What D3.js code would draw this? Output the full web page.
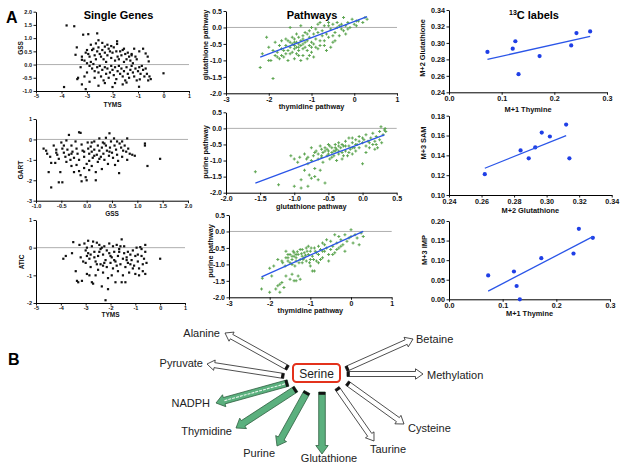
<!DOCTYPE html>
<html><head><meta charset="utf-8">
<script src="https://cdn.jsdelivr.net/npm/d3@7"></script>
<style>body{margin:0;background:#fff}svg{display:block}text{font-family:"Liberation Sans",Arial,sans-serif}</style>
</head><body><svg id="c" width="625" height="469"></svg>
<script>
// ---------------- DATA ----------------
// Single genes: GSS vs TYMS
const gssVsTyms = [[-3.8,1.48],[-3.5,1.45],[-3.15,1.13],[-2.95,1.15],[-2.6,1.18],[-2.55,0.92],[-2.4,0.82],[-2.2,0.75],[-1.82,0.88],[-1.82,0.78],[-3.4,0.65],[-3.45,0.37],[-3.2,0.18],[-3.1,0.15],[-3.05,0.45],[-3.0,0.55],[-2.95,0.4],[-2.9,0.3],[-2.85,0.1],[-2.8,0.55],[-2.75,0.6],[-2.7,0.35],[-2.65,0.2],[-2.6,0.5],[-2.55,0.65],[-2.5,0.4],[-2.45,0.3],[-2.4,0.55],[-2.35,0.2],[-2.3,0.45],[-2.25,0.1],[-2.2,0.35],[-2.15,0.6],[-2.1,0.5],[-2.05,0.25],[-2.0,0.45],[-1.95,0.65],[-1.9,0.15],[-1.85,0.5],[-1.8,0.3],[-1.75,0.2],[-1.7,0.5],[-1.65,0.35],[-1.6,0.55],[-1.55,0.1],[-1.5,0.4],[-1.45,0.2],[-1.4,0.45],[-1.35,0.3],[-1.3,0.15],[-1.25,0.4],[-1.2,0.05],[-1.1,0.3],[-1.05,0.2],[-0.95,0.5],[-0.8,0.6],[-0.7,0.42],[-0.62,0.3],[-0.58,0.12],[-3.0,0.05],[-2.9,-0.05],[-2.8,-0.15],[-2.75,0.02],[-2.7,-0.25],[-2.6,-0.1],[-2.55,-0.3],[-2.5,-0.05],[-2.45,-0.45],[-2.4,-0.2],[-2.35,-0.6],[-2.3,-0.1],[-2.25,-0.35],[-2.2,-0.15],[-2.15,-0.5],[-2.1,-0.3],[-2.05,-0.05],[-2.0,-0.2],[-1.95,-0.4],[-1.9,-0.1],[-1.85,-0.55],[-1.8,-0.25],[-1.75,-0.05],[-1.7,-0.35],[-1.65,-0.15],[-1.6,-0.45],[-1.55,-0.25],[-1.5,-0.6],[-1.45,-0.1],[-1.4,-0.35],[-1.35,-0.5],[-1.3,-0.2],[-1.25,-0.05],[-1.2,-0.3],[-1.15,-0.45],[-1.1,-0.15],[-1.05,-0.6],[-1.0,-0.25],[-0.95,-0.1],[-0.9,-0.35],[-0.85,-0.05],[-0.8,-0.2],[-0.75,-0.45],[-0.7,-0.15],[-0.65,-0.35],[-0.6,-0.6],[-0.55,-0.45],[-0.5,-0.55],[-0.93,-0.56],[-0.96,-0.84],[0.0,-0.33],[-3.9,-0.85],[-3.35,-0.5],[-3.38,-0.55],[-3.2,-0.75],[-3.05,-0.93],[-3.1,-0.45],[-2.9,-0.65],[-2.7,-0.5],[-2.55,-0.8],[-2.3,-0.7],[-2.0,-0.85],[-1.9,-0.7],[-1.6,-0.75],[-1.45,-0.68],[-3.2,0.3],[-3.25,-0.1],[-3.0,-0.3],[-2.85,0.75],[-2.65,0.8],[-2.3,0.68],[-2.05,0.7],[-1.55,0.6],[-1.25,0.35],[-1.15,0.6]];
// GART vs GSS
const gartVsGss = [[-0.85,-0.45],[-0.8,-0.55],[-0.78,-0.7],[-0.72,-0.85],[-0.7,-1.15],[-0.75,-1.6],[-0.7,-2.35],[-0.55,-2.1],[-0.48,-2.1],[-0.62,-1.15],[-0.65,-0.3],[-0.6,-0.5],[-0.58,-0.75],[-0.55,-0.95],[-0.52,-1.6],[-0.5,-0.15],[-0.48,-0.45],[-0.45,-0.65],[-0.42,-0.85],[-0.4,-0.05],[-0.38,-0.5],[-0.35,0.22],[-0.35,-0.75],[-0.32,-1.0],[-0.3,-0.3],[-0.28,-0.6],[-0.25,-0.9],[-0.22,-0.1],[-0.2,-0.45],[-0.2,-1.25],[-0.18,-0.7],[-0.15,0.35],[-0.12,0.32],[-0.15,-1.55],[-0.12,-1.75],[-0.1,-2.05],[-0.1,-0.25],[-0.08,-0.55],[-0.05,-0.85],[-0.05,-1.4],[-0.02,-1.85],[0.0,-2.0],[0.02,-0.15],[0.03,-0.45],[0.05,-0.7],[0.05,-1.05],[0.08,-0.35],[0.1,-0.6],[0.1,-1.3],[0.12,-0.9],[0.15,-0.1],[0.15,-0.5],[0.18,-1.6],[0.18,-2.0],[0.2,-0.75],[0.22,-0.3],[0.22,-1.1],[0.25,0.05],[0.25,-0.55],[0.28,-0.85],[0.3,-0.4],[0.3,-1.45],[0.32,-0.15],[0.33,-0.7],[0.35,-1.0],[0.38,-0.3],[0.38,0.08],[0.4,-0.55],[0.42,-1.2],[0.44,-0.8],[0.45,0.3],[0.46,-0.4],[0.48,-0.1],[0.5,-0.65],[0.52,-0.9],[0.54,0.05],[0.55,-0.3],[0.56,-1.25],[0.58,-0.5],[0.6,-0.75],[0.62,-1.05],[0.64,-1.65],[0.65,-0.2],[0.68,-0.4],[0.7,-0.85],[0.72,-0.55],[0.75,-0.3],[0.78,-0.6],[0.8,0.05],[0.8,-1.0],[0.82,-0.45],[0.85,-0.7],[0.9,-0.75],[0.95,-0.8],[1.15,-0.2],[1.15,-0.3],[1.2,-1.3],[1.45,-0.95],[-0.3,-1.3],[-0.25,-1.6],[-0.15,-1.0],[0.0,-1.2],[0.05,-1.5],[0.1,-0.15],[-0.4,-1.1],[-0.45,-0.3],[0.35,-0.2],[0.6,-0.1],[0.15,-0.8],[-0.05,-0.6],[0.25,-0.95],[0.45,-0.6],[-0.6,-0.65],[-0.3,-0.7],[0.7,-0.1]];
// ATIC vs TYMS
const aticVsTyms = [[-3.9,-0.4],[-3.8,-0.3],[-3.55,-0.2],[-3.5,0.2],[-3.4,-0.85],[-3.35,-1.2],[-3.3,-1.25],[-3.2,-0.35],[-3.15,-1.2],[-3.05,0.15],[-3.0,-0.1],[-3.0,-0.55],[-2.95,-0.95],[-2.9,0.25],[-2.9,-0.2],[-2.85,-0.4],[-2.8,-0.7],[-2.75,-1.25],[-2.7,-1.3],[-2.75,0.05],[-2.7,0.22],[-2.65,-0.15],[-2.6,-0.5],[-2.6,-1.0],[-2.55,0.18],[-2.5,-0.3],[-2.5,-0.8],[-2.45,0.1],[-2.4,-0.05],[-2.4,-0.6],[-2.35,-1.4],[-2.3,-0.25],[-2.3,-0.9],[-2.25,0.05],[-2.2,-0.45],[-2.2,-1.9],[-2.15,-0.7],[-2.1,-1.1],[-2.1,-1.5],[-2.05,0.15],[-2.05,-0.2],[-2.0,-0.55],[-1.95,-0.35],[-1.95,-1.0],[-1.9,0.05],[-1.9,-0.75],[-1.85,-0.15],[-1.8,-0.5],[-1.8,-1.25],[-1.75,0.1],[-1.7,-0.3],[-1.7,-0.85],[-1.65,-0.05],[-1.6,-0.6],[-1.55,0.3],[-1.55,-1.25],[-1.5,-0.4],[-1.5,-1.0],[-1.45,0.05],[-1.45,-0.2],[-1.4,-0.7],[-1.4,-1.25],[-1.35,-0.35],[-1.3,-0.15],[-1.3,-0.55],[-1.25,-0.9],[-1.2,-0.25],[-1.15,-0.45],[-1.1,-0.1],[-1.05,-0.65],[-1.0,-0.3],[-1.0,-0.95],[-0.95,0.0],[-0.9,-0.5],[-0.85,-0.75],[-0.85,-1.0],[-0.8,0.02],[-0.75,-0.3],[-0.7,-0.6],[-0.7,-0.85],[-0.65,-0.4],[-0.6,0.1],[-0.6,-0.15],[-0.6,-0.95],[-0.55,-0.55],[0.0,-0.4],[-3.1,-0.5],[-3.25,0.1],[-2.85,-1.0],[-2.65,-0.35],[-2.55,-0.6],[-2.35,0.0],[-2.25,-0.55],[-2.15,-0.1],[-2.0,-0.3],[-1.85,-0.45],[-1.65,-0.15],[-1.6,0.05],[-1.35,-0.45],[-1.2,-0.6],[-1.1,-0.75],[-0.9,-0.25],[-2.95,0.0],[-2.8,-0.25],[-2.45,-0.15],[-2.3,-0.65],[-2.95,-0.3],[-1.75,-0.65],[-0.75,-0.05]];
// Pathways: glutathione vs thymidine
const glutVsThym = [[-2.2,-1.22],[-2.15,-0.8],[-2.05,-0.3],[-2.0,-1.0],[-1.95,-1.0],[-1.9,-1.55],[-1.85,-0.85],[-1.8,-0.75],[-1.75,-0.95],[-1.7,-0.65],[-1.65,-0.9],[-1.6,-0.55],[-1.55,-0.7],[-1.55,-1.0],[-1.5,-0.45],[-1.5,-0.6],[-1.5,0.0],[-1.45,-0.5],[-1.45,-0.75],[-1.4,-0.35],[-1.4,-0.55],[-1.4,-0.65],[-1.35,-0.45],[-1.35,-0.6],[-1.35,-0.8],[-1.3,-0.3],[-1.3,-0.5],[-1.3,-0.7],[-1.25,-0.4],[-1.25,-0.55],[-1.25,0.05],[-1.2,-0.25],[-1.2,-0.5],[-1.2,-0.65],[-1.2,-0.85],[-1.15,-0.45],[-1.15,-0.6],[-1.1,-0.2],[-1.1,-0.4],[-1.1,-0.7],[-1.05,-0.3],[-1.05,-0.55],[-1.0,0.0],[-1.0,-0.45],[-1.0,-0.75],[-0.95,-0.2],[-0.95,-0.9],[-0.9,-0.35],[-0.9,-0.6],[-0.85,0.1],[-0.85,-0.15],[-0.8,-0.4],[-0.8,-0.55],[-0.75,-0.1],[-0.75,-0.25],[-0.7,0.05],[-0.7,-0.4],[-0.65,-0.2],[-0.65,-0.7],[-0.6,0.15],[-0.6,-0.3],[-0.55,-0.05],[-0.5,-0.45],[-0.5,0.1],[-0.45,-0.15],[-0.4,0.0],[-0.4,0.15],[-0.35,-0.25],[-0.3,0.1],[-0.3,-0.05],[-0.25,0.3],[-0.2,0.05],[-0.2,-0.2],[-0.15,0.15],[-0.1,0.0],[-0.05,0.25],[0.0,0.1],[0.05,0.05],[0.1,0.2],[0.2,0.15],[0.25,0.3],[0.3,0.25],[-1.65,-0.7],[-1.6,-0.8],[-1.75,-0.55],[-1.85,-0.45],[-1.7,-0.4],[-1.45,-0.3],[-1.3,-0.85],[-1.15,-0.15],[-1.05,-0.85],[-0.95,-0.5],[-0.85,-0.65],[-1.35,-0.2],[-1.6,-0.35],[-2.0,-0.6],[-1.9,-0.7],[-1.25,-1.0],[-1.1,-0.95],[-0.55,-0.6],[-0.45,-0.4],[-0.8,0.15],[-0.6,0.05],[-1.4,-0.95],[-1.55,-0.4],[-1.05,-0.1],[-0.7,-0.55],[-0.35,0.05],[-0.9,-0.05],[-1.0,-0.6],[-1.2,-0.35],[-1.3,-0.6],[-1.4,-0.45],[-1.5,-0.8],[-1.7,-0.85],[-1.8,-0.9],[-0.15,-0.05],[0.05,0.2],[-0.25,-0.1],[-0.5,-0.25]];
const glutVsThymFit = [[-2.2,-0.9],[0.3,0.33]];
// Pathways: purine vs glutathione
const purVsGlut = [[-1.57,-1.35],[-1.23,-1.75],[-1.0,-1.8],[-0.9,-1.85],[-0.8,-1.8],[-1.05,-0.85],[-1.0,-0.95],[-0.95,-1.05],[-0.9,-1.6],[-0.85,-1.3],[-0.82,-0.95],[-0.8,-0.9],[-0.78,-1.45],[-0.75,-0.6],[-0.75,-1.55],[-0.72,-0.85],[-0.7,-1.25],[-0.7,-1.5],[-0.68,-0.7],[-0.65,-0.8],[-0.65,-1.6],[-0.62,-1.3],[-0.6,-0.65],[-0.6,-0.9],[-0.58,-0.75],[-0.55,-0.6],[-0.55,-1.7],[-0.52,-0.85],[-0.5,-0.7],[-0.5,-0.5],[-0.48,-0.95],[-0.45,-0.75],[-0.45,-0.6],[-0.42,-0.85],[-0.4,-0.5],[-0.4,-0.7],[-0.38,-0.65],[-0.35,-0.8],[-0.35,-0.45],[-0.32,-0.6],[-0.3,-0.75],[-0.3,-0.95],[-0.28,-0.55],[-0.25,-0.4],[-0.25,-0.7],[-0.22,-0.85],[-0.2,-0.55],[-0.2,-0.3],[-0.18,-0.65],[-0.15,-0.45],[-0.15,-0.8],[-0.12,-0.6],[-0.1,-0.35],[-0.1,-0.7],[-0.08,-0.5],[-0.05,-0.25],[-0.05,-0.6],[0.0,-0.45],[0.0,-1.1],[0.02,-0.35],[0.05,-0.55],[0.05,-0.2],[0.08,-0.4],[0.1,-0.6],[0.12,-0.3],[0.15,-0.5],[0.15,-0.15],[0.18,-0.4],[0.2,-0.25],[0.22,-0.6],[0.25,-0.35],[0.25,-0.1],[0.27,0.05],[0.28,-0.45],[0.3,-0.2],[0.32,-0.05],[0.33,0.0],[0.34,-0.1],[-0.6,-0.85],[-0.55,-0.7],[-0.5,-0.8],[-0.45,-0.9],[-0.4,-0.6],[-0.35,-0.7],[-0.7,-0.75],[-0.65,-0.95],[-0.3,-0.5],[-0.2,-0.75],[-0.15,-0.6],[-0.1,-0.5],[0.1,-0.45],[0.2,-0.5],[-0.85,-0.8],[-0.92,-0.9],[-0.75,-1.0],[-0.48,-0.55],[-0.05,-0.4],[-0.25,-0.55],[-0.58,-1.05],[0.05,-0.75],[-0.38,-1.0],[-0.8,-1.1],[-0.62,-0.55],[0.18,-0.65],[-0.35,-0.55],[-0.42,-0.7],[-0.52,-0.65],[-0.15,-0.3],[0.0,-0.3],[-0.28,-0.85]];
const purVsGlutFit = [[-1.57,-1.7],[0.32,-0.2]];
// Pathways: purine vs thymidine
const purVsThym = [[-2.2,-1.75],[-2.18,-1.42],[-2.0,-1.12],[-2.0,-1.85],[-1.95,-1.35],[-1.85,-1.75],[-1.8,-1.65],[-1.75,-1.6],[-1.75,-1.85],[-1.7,-1.55],[-1.68,-0.95],[-1.65,-1.7],[-1.6,-0.6],[-1.6,-1.35],[-1.55,-0.8],[-1.55,-0.9],[-1.5,-0.7],[-1.5,-1.45],[-1.45,-0.85],[-1.45,-1.0],[-1.45,-1.3],[-1.4,-0.65],[-1.4,-0.75],[-1.4,-1.5],[-1.35,-0.8],[-1.35,-0.9],[-1.3,-0.7],[-1.3,-1.35],[-1.25,-0.55],[-1.25,-0.85],[-1.2,-0.75],[-1.2,-0.95],[-1.15,-0.65],[-1.15,-0.8],[-1.1,-0.5],[-1.1,-0.9],[-1.05,-0.7],[-1.0,-0.6],[-1.0,-0.85],[-0.95,-0.75],[-0.95,-1.2],[-0.9,-0.5],[-0.9,-1.2],[-0.85,-0.65],[-0.85,-0.9],[-0.8,-0.45],[-0.8,-0.7],[-0.75,-0.55],[-0.7,-0.35],[-0.7,-0.8],[-0.65,-0.6],[-0.6,-0.5],[-0.55,-0.7],[-0.5,-0.3],[-0.5,-0.55],[-0.45,-0.45],[-0.4,-0.1],[-0.4,-0.65],[-0.35,-0.35],[-0.3,-0.15],[-0.3,-0.5],[-0.25,-0.25],[-0.2,-0.4],[-0.15,-0.1],[-0.15,-0.6],[-0.1,-0.3],[-0.05,-0.2],[0.0,0.05],[0.0,-0.15],[0.05,-0.35],[0.1,-0.1],[0.15,-0.2],[0.2,-0.4],[0.25,-0.05],[0.3,-0.15],[-1.55,-0.7],[-1.5,-0.95],[-1.42,-0.6],[-1.38,-1.05],[-1.32,-0.62],[-1.28,-0.95],[-1.22,-0.68],[-1.18,-0.85],[-1.12,-0.72],[-1.08,-0.6],[-1.02,-0.95],[-0.98,-0.5],[-0.92,-0.85],[-0.88,-0.6],[-1.35,-0.7],[-1.45,-0.75],[-1.62,-1.05],[-1.7,-0.9],[-1.8,-0.85],[-1.9,-1.05],[-1.25,-1.45],[-1.35,-1.5],[-0.6,-0.25],[-0.45,-0.7],[-0.35,-0.55],[-0.25,-0.45],[-0.75,-0.85],[-0.65,-0.4],[-1.05,-0.45],[-1.6,-0.8],[-1.2,-0.55],[-0.55,-0.9],[-0.7,-0.6],[-0.8,-0.95],[-1.0,-1.05]];
const purVsThymFit = [[-2.2,-1.38],[0.3,0.0]];
// 13C labels
const m1Thymine = [0.073,0.121,0.126,0.132,0.172,0.232,0.242,0.268];
const m2Glutathione = [0.289,0.293,0.302,0.262,0.284,0.297,0.312,0.314];
const m3SAM = [0.137,0.148,0.159,0.121,0.145,0.163,0.171,0.137];
const m3IMP = [0.061,0.071,0.034,0.000,0.105,0.117,0.180,0.157];
const fitGluThy = [[0.073,0.280],[0.268,0.308]];
const fitSamGlu = [[0.262,0.127],[0.312,0.160]];
const fitImpThy = [[0.073,0.021],[0.268,0.160]];
// tick labels
const ticksInt5 = [-5,-4,-3,-2,-1,0,1];
const ticksGssY = [-1,-0.5,0,0.5,1,1.5,2];
const ticksGartY = [-3,-2,-1,0,1];
const ticksGssX = [-1,-0.5,0,0.5,1,1.5,2];
const ticksAticY = [-2,-1,0,1];
const ticksPathX = [-3,-2,-1,0,1];
const ticksPathY = [-2,-1.5,-1,-0.5,0,0.5];
const ticksGlutX = [-2,-1.5,-1,-0.5,0,0.5];
const ticksThyX = [0,0.1,0.2,0.3];
const ticksGluY = [0.24,0.26,0.28,0.30,0.32,0.34];
const ticksGluX = [0.24,0.26,0.28,0.30,0.32,0.34];
const ticksSamY = [0.10,0.12,0.14,0.16,0.18];
const ticksImpY = [0,0.05,0.10,0.15,0.20];
// diagram
const flowNames = ["Alanine","Pyruvate","NADPH","Thymidine","Purine","Glutathione","Taurine","Cysteine","Methylation","Betaine"];
const flowKind = ["open","open","hatched","green","green","green","open","open","open","open"];

// ---------------- DRAW ----------------
const svg = d3.select("#c");
const fm = f => v => d3.format(f)(v).replace("\u2212","-");
const pair = (xs, ys) => xs.map((x,i)=>[x, ys[i]]);

const panels = [
 {pts:gssVsTyms, mk:"sq", xd:[-5,1], yd:[-1,2], px:[36,189], py:[91,11.7], xt:ticksInt5, yt:ticksGssY, xf:fm("d"), yf:fm(".1f"), fs:5.5, zero:true, xl:"TYMS", xly:106.5, yl:"GSS", ylx:23, yly:48, lfs:6.5},
 {pts:gartVsGss, mk:"sq", xd:[-1,2], yd:[-3,1], px:[36,188], py:[200.7,119], xt:ticksGssX, yt:ticksGartY, xf:fm(".1f"), yf:fm("d"), fs:5.5, zero:true, xl:"GSS", xly:216, yl:"GART", ylx:23, yly:170, lfs:6.5},
 {pts:aticVsTyms, mk:"sq", xd:[-5,1], yd:[-2,1], px:[36,185], py:[303,220], xt:ticksInt5, yt:ticksAticY, xf:fm("d"), yf:fm("d"), fs:5.5, zero:true, xl:"TYMS", xly:317, yl:"ATIC", ylx:24, yly:262, lfs:6.5},
 {pts:glutVsThym, fit:glutVsThymFit, mk:"gr", xd:[-3,1], yd:[-2,0.5], px:[226,397], py:[93.3,11], xt:ticksPathX, yt:ticksPathY, xf:fm("d"), yf:fm(".1f"), fs:7, zero:true, xl:"thymidine pathway", xly:108.5, yl:"glutathione pathway", ylx:208, yly:45, lfs:7.3},
 {pts:purVsGlut, fit:purVsGlutFit, mk:"gr", xd:[-2,0.5], yd:[-2,0.5], px:[226,396.7], py:[192.7,112.3], xt:ticksGlutX, yt:ticksPathY, xf:fm(".1f"), yf:fm(".1f"), fs:7, zero:true, xl:"glutathione pathway", xly:208.5, yl:"purine pathway", ylx:208, yly:152, lfs:7.3},
 {pts:purVsThym, fit:purVsThymFit, mk:"gr", xd:[-3,1], yd:[-2,0.5], px:[229,391.7], py:[297.3,215], xt:ticksPathX, yt:ticksPathY, xf:fm("d"), yf:fm(".1f"), fs:7, zero:true, xl:"thymidine pathway", xly:313, yl:"purine pathway", ylx:213, yly:251, lfs:7.3},
 {pts:pair(m1Thymine,m2Glutathione), fit:fitGluThy, mk:"bl", xd:[0,0.3], yd:[0.24,0.34], px:[449,607], py:[92.3,10], xt:ticksThyX, yt:ticksGluY, xf:fm(".1f"), yf:fm(".2f"), fs:7.2, zero:false, xl:"M+1 Thymine", xly:111.5, yl:"M+2 Glutathione", ylx:425, yly:48, lfs:7.4},
 {pts:pair(m2Glutathione,m3SAM), fit:fitSamGlu, mk:"bl", xd:[0.24,0.34], yd:[0.10,0.18], px:[449,611.7], py:[195,115.7], xt:ticksGluX, yt:ticksSamY, xf:fm(".2f"), yf:fm(".2f"), fs:7.2, zero:false, xl:"M+2 Glutathione", xly:212.5, yl:"M+3 SAM", ylx:426, yly:143, lfs:7.4},
 {pts:pair(m1Thymine,m3IMP), fit:fitImpThy, mk:"bl", xd:[0,0.3], yd:[0,0.20], px:[449,610], py:[299.3,221], xt:ticksThyX, yt:ticksImpY, xf:fm(".1f"), yf:fm(".2f"), fs:7.2, zero:false, xl:"M+1 Thymine", xly:316, yl:"M+3  IMP", ylx:427, yly:250, lfs:7.4}
];

panels.forEach(p => {
  const x = d3.scaleLinear().domain(p.xd).range(p.px);
  const y = d3.scaleLinear().domain(p.yd).range(p.py);
  const g = svg.append("g");
  if (p.zero) g.append("line").attr("x1",x(p.xd[0])).attr("x2",x(p.xd[1])).attr("y1",y(0)).attr("y2",y(0)).attr("stroke","#9a9a9a").attr("stroke-width",0.8);
  const ax = g.append("g").attr("transform",`translate(0,${p.py[0]})`)
    .call(d3.axisBottom(x).tickValues(p.xt).tickFormat(p.xf).tickSize(2.5).tickSizeOuter(0).tickPadding(1));
  const ay = g.append("g").attr("transform",`translate(${p.px[0]},0)`)
    .call(d3.axisLeft(y).tickValues(p.yt).tickFormat(p.yf).tickSize(2.5).tickSizeOuter(0).tickPadding(1.5));
  [ax,ay].forEach(a => {
    a.select(".domain").attr("stroke","#000").attr("stroke-width",1);
    a.selectAll(".tick line").attr("stroke","#000").attr("stroke-width",0.9);
    a.selectAll(".tick text").attr("fill","#111").attr("font-weight","bold").attr("font-size",p.fs).attr("font-family","Liberation Sans, Arial, sans-serif");
  });
  if (p.mk==="sq") {
    g.selectAll("rect.pt").data(p.pts).enter().append("rect").attr("class","pt")
      .attr("x",d=>x(d[0])-1.1).attr("y",d=>y(d[1])-1.1).attr("width",2.2).attr("height",2.2).attr("fill","#111");
  } else if (p.mk==="gr") {
    g.selectAll("path.pt").data(p.pts).enter().append("path").attr("class","pt")
      .attr("transform",d=>`translate(${x(d[0])},${y(d[1])})`)
      .attr("d",d3.symbol(d3.symbolCross,5)).attr("fill","#5fa653");
  } else {
    g.selectAll("circle.pt").data(p.pts).enter().append("circle").attr("class","pt")
      .attr("cx",d=>x(d[0])).attr("cy",d=>y(d[1])).attr("r",2.1).attr("fill","#1f3fe6");
  }
  if (p.fit) g.append("line").attr("x1",x(p.fit[0][0])).attr("y1",y(p.fit[0][1])).attr("x2",x(p.fit[1][0])).attr("y2",y(p.fit[1][1]))
      .attr("stroke","#2a55e8").attr("stroke-width",1.3);
  g.append("text").attr("x",(p.px[0]+p.px[1])/2).attr("y",p.xly).attr("text-anchor","middle")
    .attr("font-weight","bold").attr("font-size",p.lfs).attr("fill","#111").text(p.xl);
  g.append("text").attr("transform",`translate(${p.ylx},${p.yly}) rotate(-90)`).attr("text-anchor","middle")
    .attr("font-weight","bold").attr("font-size",p.lfs).attr("fill","#111").text(p.yl);
});

// titles
svg.append("text").attr("x",6).attr("y",23).attr("font-weight","bold").attr("font-size",16).text("A");
svg.append("text").attr("x",118.5).attr("y",18.5).attr("text-anchor","middle").attr("font-weight","bold").attr("font-size",11).text("Single Genes");
svg.append("text").attr("x",312).attr("y",18.5).attr("text-anchor","middle").attr("font-weight","bold").attr("font-size",11).text("Pathways");
const t13 = svg.append("text").attr("x",509).attr("y",18.5).attr("font-weight","bold").attr("font-size",11);
t13.append("tspan").attr("font-size",7).attr("dy",-4).text("13");
t13.append("tspan").attr("dy",4).text("C labels");
svg.append("text").attr("x",8).attr("y",365).attr("font-weight","bold").attr("font-size",16).text("B");

// ---------------- DIAGRAM ----------------
const geom = [
 {b:[288,368], t:[225,333], lx:220, ly:337, a:"end"},
 {b:[284,376], t:[207,364], lx:203, ly:367, a:"end"},
 {b:[288,383], t:[216,403], lx:210, ly:407, a:"end"},
 {b:[296,389], t:[236,428], lx:232, ly:435, a:"end"},
 {b:[307,392], t:[277,446], lx:275, ly:457, a:"end"},
 {b:[322,392], t:[322,454], lx:329, ly:462, a:"middle"},
 {b:[337,388], t:[374,441], lx:370, ly:453, a:"start"},
 {b:[347,383], t:[404,424], lx:408, ly:432, a:"start"},
 {b:[347,374], t:[423,374], lx:427, ly:379, a:"start"},
 {b:[346,369], t:[413,339], lx:416, ly:343, a:"start"}
];
function frame(b,t){const dx=t[0]-b[0],dy=t[1]-b[1],L=Math.hypot(dx,dy),ux=dx/L,uy=dy/L;
  return {L, pt:(s,n)=>[b[0]+ux*s-uy*n, b[1]+uy*s+ux*n]};}
const dg = svg.append("g");
flowNames.forEach((name,i) => {
  const gm = geom[i], kind = flowKind[i];
  const green = kind!=="open";
  const sw = green?3.3:2.5, hw = green?6.2:5.2, hl = green?8.5:7.5;
  const f = frame(gm.b, gm.t), L=f.L, pt=f.pt;
  const pts=[pt(0,-sw),pt(L-hl,-sw),pt(L-hl,-hw),pt(L,0),pt(L-hl,hw),pt(L-hl,sw),pt(0,sw)];
  dg.append("path").attr("d","M"+pts.map(p=>p.join(",")).join("L")+"Z")
    .attr("fill",green?"#5bb07e":"#fff").attr("stroke",green?"#2f5f40":"#222").attr("stroke-width",0.8);
  if (kind==="hatched") {
    const a=pt(3,0), c=pt(L-hl,0);
    dg.append("line").attr("x1",a[0]).attr("y1",a[1]).attr("x2",c[0]).attr("y2",c[1]).attr("stroke","#e8f5ec").attr("stroke-width",1.1).attr("stroke-dasharray","3,1");
  }
  const cap=[pt(0,-sw),pt(2.8,-sw),pt(2.8,sw),pt(0,sw)];
  dg.append("path").attr("d","M"+cap.map(p=>p.join(",")).join("L")+"Z").attr("fill","#111");
  dg.append("text").attr("x",gm.lx).attr("y",gm.ly).attr("text-anchor",gm.a)
    .attr("font-family","Lato, 'Open Sans', sans-serif").attr("font-size",11).attr("fill","#222").text(name);
});
dg.append("rect").attr("x",293).attr("y",364).attr("width",47).attr("height",18).attr("rx",3.5)
  .attr("fill","#fff").attr("stroke","#e3321c").attr("stroke-width",2);
dg.append("text").attr("x",316.5).attr("y",377.5).attr("text-anchor","middle")
  .attr("font-family","Lato, 'Open Sans', sans-serif").attr("font-size",12).attr("fill","#222").text("Serine");
</script></body></html>
